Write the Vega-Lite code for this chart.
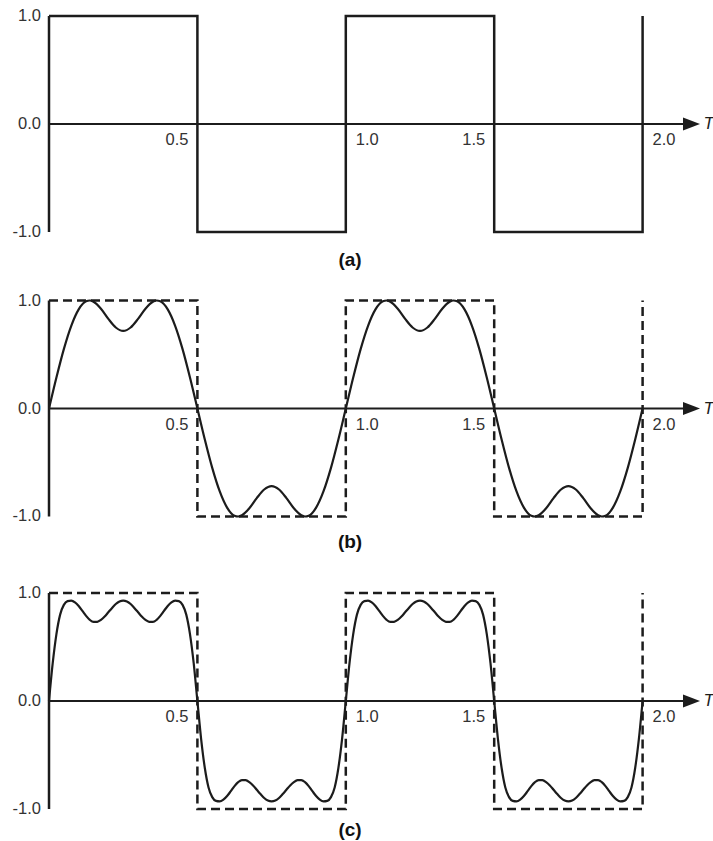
{
  "$schema": "https://vega.github.io/schema/vega-lite/v6.json",
  "padding": 0,
  "background": "white",
  "spacing": 0,
  "bounds": "flush",
  "config": {"view": {"stroke": null}, "concat": {"spacing": 0}},
  "datasets": {
    "square": [
      {"i": 0, "t": 0, "v": 1}, {"i": 1, "t": 0.5, "v": 1}, {"i": 2, "t": 0.5, "v": -1},
      {"i": 3, "t": 1, "v": -1}, {"i": 4, "t": 1, "v": 1}, {"i": 5, "t": 1.5, "v": 1},
      {"i": 6, "t": 1.5, "v": -1}, {"i": 7, "t": 2, "v": -1}, {"i": 8, "t": 2, "v": 1}
    ],
    "ticksX": [
      {"t": 0.5, "label": "0.5", "side": "left"},
      {"t": 1.0, "label": "1.0", "side": "right"},
      {"t": 1.5, "label": "1.5", "side": "left"},
      {"t": 2.0, "label": "2.0", "side": "right"}
    ],
    "ticksY": [
      {"v": 1, "label": "1.0"}, {"v": 0, "label": "0.0"}, {"v": -1, "label": "-1.0"}
    ],
    "fourier2": [
      {"t":0,"v":0},{"t":0.025,"v":0.287},{"t":0.05,"v":0.55},{"t":0.075,"v":0.766},{"t":0.1,"v":0.918},{"t":0.125,"v":0.993},{"t":0.1375,"v":1},{"t":0.15,"v":0.988},{"t":0.175,"v":0.924},{"t":0.2,"v":0.83},{"t":0.225,"v":0.75},{"t":0.25,"v":0.718},{"t":0.275,"v":0.75},{"t":0.3,"v":0.83},{"t":0.325,"v":0.924},{"t":0.35,"v":0.988},{"t":0.3625,"v":1},{"t":0.375,"v":0.993},{"t":0.4,"v":0.918},{"t":0.425,"v":0.766},{"t":0.45,"v":0.55},{"t":0.475,"v":0.287},
      {"t":0.5,"v":0},{"t":0.525,"v":-0.287},{"t":0.55,"v":-0.55},{"t":0.575,"v":-0.766},{"t":0.6,"v":-0.918},{"t":0.625,"v":-0.993},{"t":0.6375,"v":-1},{"t":0.65,"v":-0.988},{"t":0.675,"v":-0.924},{"t":0.7,"v":-0.83},{"t":0.725,"v":-0.75},{"t":0.75,"v":-0.718},{"t":0.775,"v":-0.75},{"t":0.8,"v":-0.83},{"t":0.825,"v":-0.924},{"t":0.85,"v":-0.988},{"t":0.8625,"v":-1},{"t":0.875,"v":-0.993},{"t":0.9,"v":-0.918},{"t":0.925,"v":-0.766},{"t":0.95,"v":-0.55},{"t":0.975,"v":-0.287},
      {"t":1,"v":0},{"t":1.025,"v":0.287},{"t":1.05,"v":0.55},{"t":1.075,"v":0.766},{"t":1.1,"v":0.918},{"t":1.125,"v":0.993},{"t":1.1375,"v":1},{"t":1.15,"v":0.988},{"t":1.175,"v":0.924},{"t":1.2,"v":0.83},{"t":1.225,"v":0.75},{"t":1.25,"v":0.718},{"t":1.275,"v":0.75},{"t":1.3,"v":0.83},{"t":1.325,"v":0.924},{"t":1.35,"v":0.988},{"t":1.3625,"v":1},{"t":1.375,"v":0.993},{"t":1.4,"v":0.918},{"t":1.425,"v":0.766},{"t":1.45,"v":0.55},{"t":1.475,"v":0.287},
      {"t":1.5,"v":0},{"t":1.525,"v":-0.287},{"t":1.55,"v":-0.55},{"t":1.575,"v":-0.766},{"t":1.6,"v":-0.918},{"t":1.625,"v":-0.993},{"t":1.6375,"v":-1},{"t":1.65,"v":-0.988},{"t":1.675,"v":-0.924},{"t":1.7,"v":-0.83},{"t":1.725,"v":-0.75},{"t":1.75,"v":-0.718},{"t":1.775,"v":-0.75},{"t":1.8,"v":-0.83},{"t":1.825,"v":-0.924},{"t":1.85,"v":-0.988},{"t":1.8625,"v":-1},{"t":1.875,"v":-0.993},{"t":1.9,"v":-0.918},{"t":1.925,"v":-0.766},{"t":1.95,"v":-0.55},{"t":1.975,"v":-0.287},
      {"t":2,"v":0}
    ],
    "fourier3": [
      {"t":0,"v":0},{"t":0.0125,"v":0.35},{"t":0.025,"v":0.62},{"t":0.0375,"v":0.8},{"t":0.05,"v":0.89},{"t":0.0625,"v":0.925},{"t":0.075,"v":0.93},{"t":0.0875,"v":0.914},{"t":0.1,"v":0.88},{"t":0.1125,"v":0.835},{"t":0.125,"v":0.788},{"t":0.1375,"v":0.751},{"t":0.15,"v":0.732},{"t":0.1625,"v":0.733},{"t":0.175,"v":0.751},{"t":0.1875,"v":0.782},{"t":0.2,"v":0.822},{"t":0.2125,"v":0.862},{"t":0.225,"v":0.898},{"t":0.2375,"v":0.922},{"t":0.25,"v":0.93},{"t":0.2625,"v":0.922},{"t":0.275,"v":0.898},{"t":0.2875,"v":0.862},{"t":0.3,"v":0.822},{"t":0.3125,"v":0.782},{"t":0.325,"v":0.751},{"t":0.3375,"v":0.733},{"t":0.35,"v":0.732},{"t":0.3625,"v":0.751},{"t":0.375,"v":0.788},{"t":0.3875,"v":0.835},{"t":0.4,"v":0.88},{"t":0.4125,"v":0.914},{"t":0.425,"v":0.93},{"t":0.4375,"v":0.925},{"t":0.45,"v":0.89},{"t":0.4625,"v":0.8},{"t":0.475,"v":0.62},{"t":0.4875,"v":0.35},
      {"t":0.5,"v":0},{"t":0.5125,"v":-0.35},{"t":0.525,"v":-0.62},{"t":0.5375,"v":-0.8},{"t":0.55,"v":-0.89},{"t":0.5625,"v":-0.925},{"t":0.575,"v":-0.93},{"t":0.5875,"v":-0.914},{"t":0.6,"v":-0.88},{"t":0.6125,"v":-0.835},{"t":0.625,"v":-0.788},{"t":0.6375,"v":-0.751},{"t":0.65,"v":-0.732},{"t":0.6625,"v":-0.733},{"t":0.675,"v":-0.751},{"t":0.6875,"v":-0.782},{"t":0.7,"v":-0.822},{"t":0.7125,"v":-0.862},{"t":0.725,"v":-0.898},{"t":0.7375,"v":-0.922},{"t":0.75,"v":-0.93},{"t":0.7625,"v":-0.922},{"t":0.775,"v":-0.898},{"t":0.7875,"v":-0.862},{"t":0.8,"v":-0.822},{"t":0.8125,"v":-0.782},{"t":0.825,"v":-0.751},{"t":0.8375,"v":-0.733},{"t":0.85,"v":-0.732},{"t":0.8625,"v":-0.751},{"t":0.875,"v":-0.788},{"t":0.8875,"v":-0.835},{"t":0.9,"v":-0.88},{"t":0.9125,"v":-0.914},{"t":0.925,"v":-0.93},{"t":0.9375,"v":-0.925},{"t":0.95,"v":-0.89},{"t":0.9625,"v":-0.8},{"t":0.975,"v":-0.62},{"t":0.9875,"v":-0.35},
      {"t":1,"v":0},{"t":1.0125,"v":0.35},{"t":1.025,"v":0.62},{"t":1.0375,"v":0.8},{"t":1.05,"v":0.89},{"t":1.0625,"v":0.925},{"t":1.075,"v":0.93},{"t":1.0875,"v":0.914},{"t":1.1,"v":0.88},{"t":1.1125,"v":0.835},{"t":1.125,"v":0.788},{"t":1.1375,"v":0.751},{"t":1.15,"v":0.732},{"t":1.1625,"v":0.733},{"t":1.175,"v":0.751},{"t":1.1875,"v":0.782},{"t":1.2,"v":0.822},{"t":1.2125,"v":0.862},{"t":1.225,"v":0.898},{"t":1.2375,"v":0.922},{"t":1.25,"v":0.93},{"t":1.2625,"v":0.922},{"t":1.275,"v":0.898},{"t":1.2875,"v":0.862},{"t":1.3,"v":0.822},{"t":1.3125,"v":0.782},{"t":1.325,"v":0.751},{"t":1.3375,"v":0.733},{"t":1.35,"v":0.732},{"t":1.3625,"v":0.751},{"t":1.375,"v":0.788},{"t":1.3875,"v":0.835},{"t":1.4,"v":0.88},{"t":1.4125,"v":0.914},{"t":1.425,"v":0.93},{"t":1.4375,"v":0.925},{"t":1.45,"v":0.89},{"t":1.4625,"v":0.8},{"t":1.475,"v":0.62},{"t":1.4875,"v":0.35},
      {"t":1.5,"v":0},{"t":1.5125,"v":-0.35},{"t":1.525,"v":-0.62},{"t":1.5375,"v":-0.8},{"t":1.55,"v":-0.89},{"t":1.5625,"v":-0.925},{"t":1.575,"v":-0.93},{"t":1.5875,"v":-0.914},{"t":1.6,"v":-0.88},{"t":1.6125,"v":-0.835},{"t":1.625,"v":-0.788},{"t":1.6375,"v":-0.751},{"t":1.65,"v":-0.732},{"t":1.6625,"v":-0.733},{"t":1.675,"v":-0.751},{"t":1.6875,"v":-0.782},{"t":1.7,"v":-0.822},{"t":1.7125,"v":-0.862},{"t":1.725,"v":-0.898},{"t":1.7375,"v":-0.922},{"t":1.75,"v":-0.93},{"t":1.7625,"v":-0.922},{"t":1.775,"v":-0.898},{"t":1.7875,"v":-0.862},{"t":1.8,"v":-0.822},{"t":1.8125,"v":-0.782},{"t":1.825,"v":-0.751},{"t":1.8375,"v":-0.733},{"t":1.85,"v":-0.732},{"t":1.8625,"v":-0.751},{"t":1.875,"v":-0.788},{"t":1.8875,"v":-0.835},{"t":1.9,"v":-0.88},{"t":1.9125,"v":-0.914},{"t":1.925,"v":-0.93},{"t":1.9375,"v":-0.925},{"t":1.95,"v":-0.89},{"t":1.9625,"v":-0.8},{"t":1.975,"v":-0.62},{"t":1.9875,"v":-0.35},
      {"t":2,"v":0}
    ]
  },
  "vconcat": [
    {
      "width": 713, "height": 276,
      "layer": [
        {"data": {"name": "square"},
         "mark": {"type": "line", "color": "#1c1c1c", "strokeWidth": 2.5, "strokeJoin": "miter"},
         "encoding": {
           "x": {"field": "t", "type": "quantitative", "scale": {"domain": [-0.1651, 2.2372], "nice": false, "zero": false}, "axis": null},
           "y": {"field": "v", "type": "quantitative", "scale": {"domain": [-1.4074, 1.1481], "nice": false, "zero": false}, "axis": null},
           "order": {"field": "i"}}},
        {"data": {"values": [{}]},
         "mark": {"type": "rule", "color": "#1c1c1c", "strokeWidth": 2},
         "encoding": {
           "x": {"datum": 0, "type": "quantitative", "scale": {"domain": [-0.1651, 2.2372], "nice": false, "zero": false}, "axis": null},
           "x2": {"datum": 2.15},
           "y": {"datum": 0, "type": "quantitative", "scale": {"domain": [-1.4074, 1.1481], "nice": false, "zero": false}, "axis": null}}},
        {"data": {"values": [{}]},
         "mark": {"type": "rule", "color": "#1c1c1c", "strokeWidth": 2.5},
         "encoding": {
           "x": {"datum": 0, "type": "quantitative", "scale": {"domain": [-0.1651, 2.2372], "nice": false, "zero": false}, "axis": null},
           "y": {"datum": -1, "type": "quantitative", "scale": {"domain": [-1.4074, 1.1481], "nice": false, "zero": false}, "axis": null},
           "y2": {"datum": 1}}},
        {"data": {"values": [{}]},
         "mark": {"type": "point", "shape": "M1,0L-1,-0.76L-1,0.76Z", "filled": true, "size": 289, "color": "#1c1c1c", "opacity": 1},
         "encoding": {
           "x": {"datum": 2.1648, "type": "quantitative", "scale": {"domain": [-0.1651, 2.2372], "nice": false, "zero": false}, "axis": null},
           "y": {"datum": 0, "type": "quantitative", "scale": {"domain": [-1.4074, 1.1481], "nice": false, "zero": false}, "axis": null}}},
        {"data": {"values": [{"label": "T"}]},
         "mark": {"type": "text", "align": "left", "baseline": "middle", "font": "Liberation Sans", "fontStyle": "italic", "fontSize": 17, "color": "#1c1c1c"},
         "encoding": {
           "x": {"datum": 2.205, "type": "quantitative", "scale": {"domain": [-0.1651, 2.2372], "nice": false, "zero": false}, "axis": null},
           "y": {"datum": 0, "type": "quantitative", "scale": {"domain": [-1.4074, 1.1481], "nice": false, "zero": false}, "axis": null},
           "text": {"field": "label"}}},
        {"data": {"name": "ticksX"},
         "transform": [{"filter": "datum.side === 'left'"}],
         "mark": {"type": "text", "align": "right", "baseline": "middle", "dx": -9, "dy": 16, "font": "Liberation Sans", "fontSize": 16.5, "color": "#333333"},
         "encoding": {
           "x": {"field": "t", "type": "quantitative", "scale": {"domain": [-0.1651, 2.2372], "nice": false, "zero": false}, "axis": null},
           "y": {"datum": 0, "type": "quantitative", "scale": {"domain": [-1.4074, 1.1481], "nice": false, "zero": false}, "axis": null},
           "text": {"field": "label"}}},
        {"data": {"name": "ticksX"},
         "transform": [{"filter": "datum.side === 'right'"}],
         "mark": {"type": "text", "align": "left", "baseline": "middle", "dx": 10, "dy": 16, "font": "Liberation Sans", "fontSize": 16.5, "color": "#333333"},
         "encoding": {
           "x": {"field": "t", "type": "quantitative", "scale": {"domain": [-0.1651, 2.2372], "nice": false, "zero": false}, "axis": null},
           "y": {"datum": 0, "type": "quantitative", "scale": {"domain": [-1.4074, 1.1481], "nice": false, "zero": false}, "axis": null},
           "text": {"field": "label"}}},
        {"data": {"name": "ticksY"},
         "mark": {"type": "text", "align": "right", "baseline": "middle", "dx": -8, "font": "Liberation Sans", "fontSize": 16.5, "color": "#333333"},
         "encoding": {
           "x": {"datum": 0, "type": "quantitative", "scale": {"domain": [-0.1651, 2.2372], "nice": false, "zero": false}, "axis": null},
           "y": {"field": "v", "type": "quantitative", "scale": {"domain": [-1.4074, 1.1481], "nice": false, "zero": false}, "axis": null},
           "text": {"field": "label"}}},
        {"data": {"values": [{"label": "(a)"}]},
         "mark": {"type": "text", "baseline": "middle", "font": "Liberation Sans", "fontSize": 19, "fontWeight": "bold", "color": "#111111"},
         "encoding": {
           "x": {"datum": 1.0142, "type": "quantitative", "scale": {"domain": [-0.1651, 2.2372], "nice": false, "zero": false}, "axis": null},
           "y": {"datum": -1.259, "type": "quantitative", "scale": {"domain": [-1.4074, 1.1481], "nice": false, "zero": false}, "axis": null},
           "text": {"field": "label"}}}
      ]
    },
    {
      "width": 713, "height": 284,
      "layer": [
        {"data": {"name": "square"},
         "mark": {"type": "line", "color": "#1c1c1c", "strokeWidth": 2.5, "strokeDash": [9, 5], "strokeJoin": "miter"},
         "encoding": {
           "x": {"field": "t", "type": "quantitative", "scale": {"domain": [-0.1651, 2.2372], "nice": false, "zero": false}, "axis": null},
           "y": {"field": "v", "type": "quantitative", "scale": {"domain": [-1.4028, 1.2269], "nice": false, "zero": false}, "axis": null},
           "order": {"field": "i"}}},
        {"data": {"name": "fourier2"},
         "mark": {"type": "line", "color": "#1c1c1c", "strokeWidth": 2.2, "interpolate": "monotone"},
         "encoding": {
           "x": {"field": "t", "type": "quantitative", "scale": {"domain": [-0.1651, 2.2372], "nice": false, "zero": false}, "axis": null},
           "y": {"field": "v", "type": "quantitative", "scale": {"domain": [-1.4028, 1.2269], "nice": false, "zero": false}, "axis": null}}},
        {"data": {"values": [{}]},
         "mark": {"type": "rule", "color": "#1c1c1c", "strokeWidth": 2},
         "encoding": {
           "x": {"datum": 0, "type": "quantitative", "scale": {"domain": [-0.1651, 2.2372], "nice": false, "zero": false}, "axis": null},
           "x2": {"datum": 2.15},
           "y": {"datum": 0, "type": "quantitative", "scale": {"domain": [-1.4028, 1.2269], "nice": false, "zero": false}, "axis": null}}},
        {"data": {"values": [{}]},
         "mark": {"type": "rule", "color": "#1c1c1c", "strokeWidth": 2.5},
         "encoding": {
           "x": {"datum": 0, "type": "quantitative", "scale": {"domain": [-0.1651, 2.2372], "nice": false, "zero": false}, "axis": null},
           "y": {"datum": -1, "type": "quantitative", "scale": {"domain": [-1.4028, 1.2269], "nice": false, "zero": false}, "axis": null},
           "y2": {"datum": 1}}},
        {"data": {"values": [{}]},
         "mark": {"type": "point", "shape": "M1,0L-1,-0.76L-1,0.76Z", "filled": true, "size": 289, "color": "#1c1c1c", "opacity": 1},
         "encoding": {
           "x": {"datum": 2.1648, "type": "quantitative", "scale": {"domain": [-0.1651, 2.2372], "nice": false, "zero": false}, "axis": null},
           "y": {"datum": 0, "type": "quantitative", "scale": {"domain": [-1.4028, 1.2269], "nice": false, "zero": false}, "axis": null}}},
        {"data": {"values": [{"label": "T"}]},
         "mark": {"type": "text", "align": "left", "baseline": "middle", "font": "Liberation Sans", "fontStyle": "italic", "fontSize": 17, "color": "#1c1c1c"},
         "encoding": {
           "x": {"datum": 2.205, "type": "quantitative", "scale": {"domain": [-0.1651, 2.2372], "nice": false, "zero": false}, "axis": null},
           "y": {"datum": 0, "type": "quantitative", "scale": {"domain": [-1.4028, 1.2269], "nice": false, "zero": false}, "axis": null},
           "text": {"field": "label"}}},
        {"data": {"name": "ticksX"},
         "transform": [{"filter": "datum.side === 'left'"}],
         "mark": {"type": "text", "align": "right", "baseline": "middle", "dx": -9, "dy": 16, "font": "Liberation Sans", "fontSize": 16.5, "color": "#333333"},
         "encoding": {
           "x": {"field": "t", "type": "quantitative", "scale": {"domain": [-0.1651, 2.2372], "nice": false, "zero": false}, "axis": null},
           "y": {"datum": 0, "type": "quantitative", "scale": {"domain": [-1.4028, 1.2269], "nice": false, "zero": false}, "axis": null},
           "text": {"field": "label"}}},
        {"data": {"name": "ticksX"},
         "transform": [{"filter": "datum.side === 'right'"}],
         "mark": {"type": "text", "align": "left", "baseline": "middle", "dx": 10, "dy": 16, "font": "Liberation Sans", "fontSize": 16.5, "color": "#333333"},
         "encoding": {
           "x": {"field": "t", "type": "quantitative", "scale": {"domain": [-0.1651, 2.2372], "nice": false, "zero": false}, "axis": null},
           "y": {"datum": 0, "type": "quantitative", "scale": {"domain": [-1.4028, 1.2269], "nice": false, "zero": false}, "axis": null},
           "text": {"field": "label"}}},
        {"data": {"name": "ticksY"},
         "mark": {"type": "text", "align": "right", "baseline": "middle", "dx": -8, "font": "Liberation Sans", "fontSize": 16.5, "color": "#333333"},
         "encoding": {
           "x": {"datum": 0, "type": "quantitative", "scale": {"domain": [-0.1651, 2.2372], "nice": false, "zero": false}, "axis": null},
           "y": {"field": "v", "type": "quantitative", "scale": {"domain": [-1.4028, 1.2269], "nice": false, "zero": false}, "axis": null},
           "text": {"field": "label"}}},
        {"data": {"values": [{"label": "(b)"}]},
         "mark": {"type": "text", "baseline": "middle", "font": "Liberation Sans", "fontSize": 19, "fontWeight": "bold", "color": "#111111"},
         "encoding": {
           "x": {"datum": 1.0142, "type": "quantitative", "scale": {"domain": [-0.1651, 2.2372], "nice": false, "zero": false}, "axis": null},
           "y": {"datum": -1.233, "type": "quantitative", "scale": {"domain": [-1.4028, 1.2269], "nice": false, "zero": false}, "axis": null},
           "text": {"field": "label"}}}
      ]
    },
    {
      "width": 713, "height": 281,
      "layer": [
        {"data": {"name": "square"},
         "mark": {"type": "line", "color": "#1c1c1c", "strokeWidth": 2.5, "strokeDash": [9, 5], "strokeJoin": "miter"},
         "encoding": {
           "x": {"field": "t", "type": "quantitative", "scale": {"domain": [-0.1651, 2.2372], "nice": false, "zero": false}, "axis": null},
           "y": {"field": "v", "type": "quantitative", "scale": {"domain": [-1.2963, 1.3056], "nice": false, "zero": false}, "axis": null},
           "order": {"field": "i"}}},
        {"data": {"name": "fourier3"},
         "mark": {"type": "line", "color": "#1c1c1c", "strokeWidth": 2.2, "interpolate": "monotone"},
         "encoding": {
           "x": {"field": "t", "type": "quantitative", "scale": {"domain": [-0.1651, 2.2372], "nice": false, "zero": false}, "axis": null},
           "y": {"field": "v", "type": "quantitative", "scale": {"domain": [-1.2963, 1.3056], "nice": false, "zero": false}, "axis": null}}},
        {"data": {"values": [{}]},
         "mark": {"type": "rule", "color": "#1c1c1c", "strokeWidth": 2},
         "encoding": {
           "x": {"datum": 0, "type": "quantitative", "scale": {"domain": [-0.1651, 2.2372], "nice": false, "zero": false}, "axis": null},
           "x2": {"datum": 2.15},
           "y": {"datum": 0, "type": "quantitative", "scale": {"domain": [-1.2963, 1.3056], "nice": false, "zero": false}, "axis": null}}},
        {"data": {"values": [{}]},
         "mark": {"type": "rule", "color": "#1c1c1c", "strokeWidth": 2.5},
         "encoding": {
           "x": {"datum": 0, "type": "quantitative", "scale": {"domain": [-0.1651, 2.2372], "nice": false, "zero": false}, "axis": null},
           "y": {"datum": -1, "type": "quantitative", "scale": {"domain": [-1.2963, 1.3056], "nice": false, "zero": false}, "axis": null},
           "y2": {"datum": 1}}},
        {"data": {"values": [{}]},
         "mark": {"type": "point", "shape": "M1,0L-1,-0.76L-1,0.76Z", "filled": true, "size": 289, "color": "#1c1c1c", "opacity": 1},
         "encoding": {
           "x": {"datum": 2.1648, "type": "quantitative", "scale": {"domain": [-0.1651, 2.2372], "nice": false, "zero": false}, "axis": null},
           "y": {"datum": 0, "type": "quantitative", "scale": {"domain": [-1.2963, 1.3056], "nice": false, "zero": false}, "axis": null}}},
        {"data": {"values": [{"label": "T"}]},
         "mark": {"type": "text", "align": "left", "baseline": "middle", "font": "Liberation Sans", "fontStyle": "italic", "fontSize": 17, "color": "#1c1c1c"},
         "encoding": {
           "x": {"datum": 2.205, "type": "quantitative", "scale": {"domain": [-0.1651, 2.2372], "nice": false, "zero": false}, "axis": null},
           "y": {"datum": 0, "type": "quantitative", "scale": {"domain": [-1.2963, 1.3056], "nice": false, "zero": false}, "axis": null},
           "text": {"field": "label"}}},
        {"data": {"name": "ticksX"},
         "transform": [{"filter": "datum.side === 'left'"}],
         "mark": {"type": "text", "align": "right", "baseline": "middle", "dx": -9, "dy": 16, "font": "Liberation Sans", "fontSize": 16.5, "color": "#333333"},
         "encoding": {
           "x": {"field": "t", "type": "quantitative", "scale": {"domain": [-0.1651, 2.2372], "nice": false, "zero": false}, "axis": null},
           "y": {"datum": 0, "type": "quantitative", "scale": {"domain": [-1.2963, 1.3056], "nice": false, "zero": false}, "axis": null},
           "text": {"field": "label"}}},
        {"data": {"name": "ticksX"},
         "transform": [{"filter": "datum.side === 'right'"}],
         "mark": {"type": "text", "align": "left", "baseline": "middle", "dx": 10, "dy": 16, "font": "Liberation Sans", "fontSize": 16.5, "color": "#333333"},
         "encoding": {
           "x": {"field": "t", "type": "quantitative", "scale": {"domain": [-0.1651, 2.2372], "nice": false, "zero": false}, "axis": null},
           "y": {"datum": 0, "type": "quantitative", "scale": {"domain": [-1.2963, 1.3056], "nice": false, "zero": false}, "axis": null},
           "text": {"field": "label"}}},
        {"data": {"name": "ticksY"},
         "mark": {"type": "text", "align": "right", "baseline": "middle", "dx": -8, "font": "Liberation Sans", "fontSize": 16.5, "color": "#333333"},
         "encoding": {
           "x": {"datum": 0, "type": "quantitative", "scale": {"domain": [-0.1651, 2.2372], "nice": false, "zero": false}, "axis": null},
           "y": {"field": "v", "type": "quantitative", "scale": {"domain": [-1.2963, 1.3056], "nice": false, "zero": false}, "axis": null},
           "text": {"field": "label"}}},
        {"data": {"values": [{"label": "(c)"}]},
         "mark": {"type": "text", "baseline": "middle", "font": "Liberation Sans", "fontSize": 19, "fontWeight": "bold", "color": "#111111"},
         "encoding": {
           "x": {"datum": 1.0142, "type": "quantitative", "scale": {"domain": [-0.1651, 2.2372], "nice": false, "zero": false}, "axis": null},
           "y": {"datum": -1.194, "type": "quantitative", "scale": {"domain": [-1.2963, 1.3056], "nice": false, "zero": false}, "axis": null},
           "text": {"field": "label"}}}
      ]
    }
  ]
}
